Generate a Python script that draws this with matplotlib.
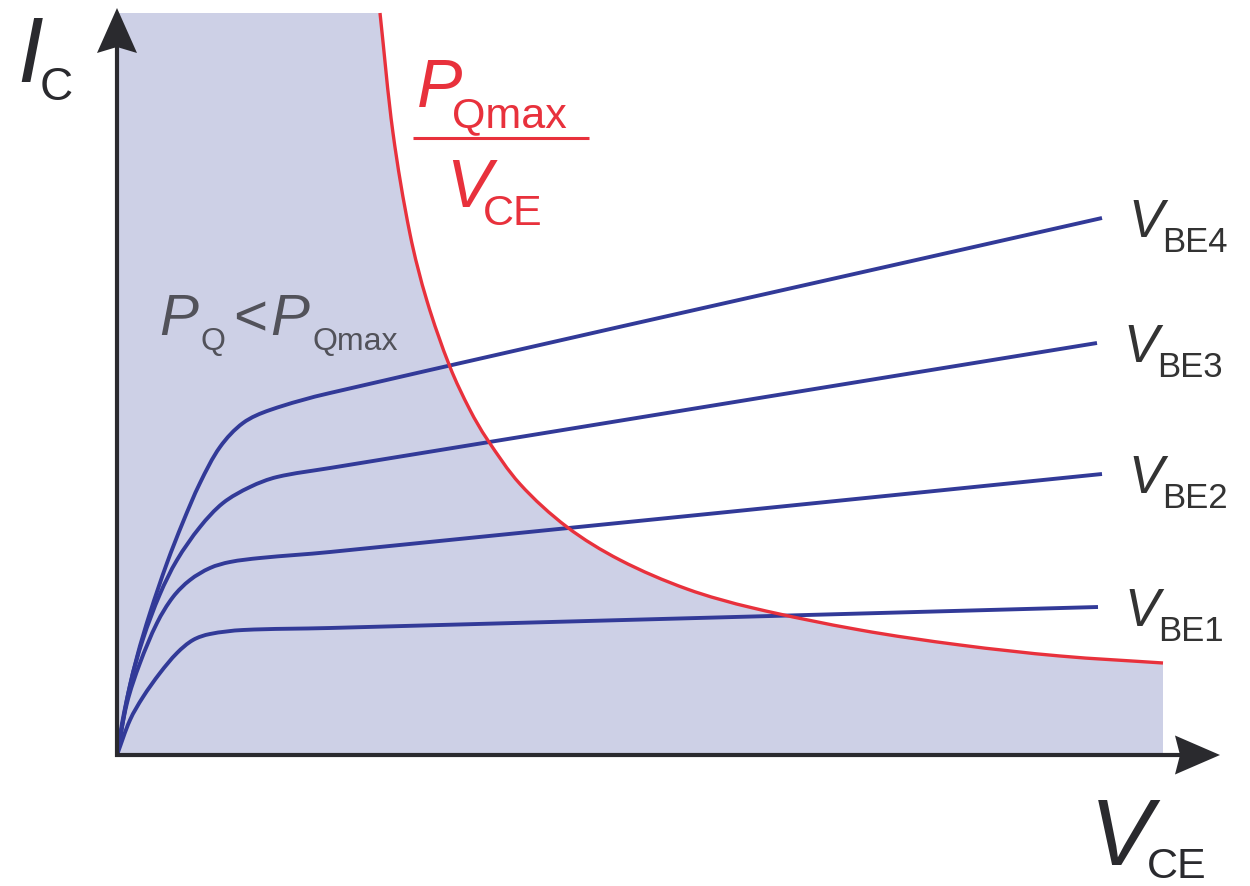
import numpy as np
import matplotlib
matplotlib.use("Agg")
import matplotlib.pyplot as plt
from matplotlib.path import Path
from matplotlib.patches import PathPatch, Polygon

# Output characteristics I_C(V_CE), one curve per base-emitter voltage
vce_be1 = [0.00, 0.13, 0.26, 0.43, 0.60, 0.76, 0.93, 1.26, 2.13, 9.81]
ic_be1 = [0.00, 0.35, 0.58, 0.82, 1.02, 1.15, 1.21, 1.25, 1.27, 1.48]

vce_be2 = [0.00, 0.10, 0.23, 0.40, 0.56, 0.73, 0.93, 1.13, 1.43, 2.13, 9.85]
ic_be2 = [0.00, 0.52, 0.92, 1.32, 1.58, 1.75, 1.87, 1.93, 1.97, 2.03, 2.81]

vce_be3 = [0.00, 0.13, 0.26, 0.43, 0.60, 0.83, 1.06, 1.33, 1.60, 2.13, 9.80]
ic_be3 = [0.00, 0.70, 1.16, 1.61, 1.95, 2.28, 2.52, 2.68, 2.78, 2.87, 4.12]

vce_be4 = [0.00, 0.07, 0.20, 0.33, 0.50, 0.66, 0.83, 1.03, 1.26, 1.53, 2.13, 9.85]
ic_be4 = [0.00, 0.42, 0.98, 1.42, 1.92, 2.33, 2.72, 3.08, 3.32, 3.45, 3.62, 5.37]

curve_names = ["BE1", "BE2", "BE3", "BE4"]

# Maximum power dissipation boundary I_C = P_Qmax / V_CE
vce_pmax = [2.63, 2.76, 2.93, 3.10, 3.33, 3.53, 3.70, 4.03, 4.50, 5.03,
            5.70, 6.36, 7.43, 8.43, 9.43, 10.46]
ic_pmax = [7.42, 6.22, 5.21, 4.54, 3.88, 3.45, 3.16, 2.71, 2.28, 1.95,
           1.66, 1.47, 1.25, 1.10, 0.99, 0.92]

ic_top = 7.42  # upper edge of the shaded safe region

BLUE = "#323a98"
RED = "#e8313c"
FILL = "#cdd0e6"
AXIS = "#2a2a2e"
FONT = "Liberation Sans"


def smooth_path(xs, ys):
    """Cubic Bezier vertices through the given points (chord-length tangents)."""
    p = np.column_stack([xs, ys]).astype(float)
    d = np.hypot(*np.diff(p, axis=0).T)
    t = np.concatenate([[0.0], np.cumsum(d)])
    n = len(p)
    m = np.zeros_like(p)
    m[0] = (p[1] - p[0]) / d[0]
    m[-1] = (p[-1] - p[-2]) / d[-1]
    for i in range(1, n - 1):
        m[i] = (p[i + 1] - p[i - 1]) / (t[i + 1] - t[i - 1])
    verts = [p[0]]
    codes = [Path.MOVETO]
    for i in range(n - 1):
        h = d[i]
        verts += [p[i] + m[i] * h / 3, p[i + 1] - m[i + 1] * h / 3, p[i + 1]]
        codes += [Path.CURVE4] * 3
    return verts, codes


fig = plt.figure(figsize=(12.5, 8.86), dpi=100)
ax = fig.add_axes([0, 0, 1, 1])
ax.set_xlim(-1.17, 11.33)
ax.set_ylim(-1.31, 7.55)
ax.axis("off")

# Shaded region P_Q < P_Qmax
rv, rc = smooth_path(vce_pmax, ic_pmax)
fill_verts = [(0, 0), (0, ic_top)] + rv + [(vce_pmax[-1], 0), (0, 0)]
fill_codes = [Path.MOVETO, Path.LINETO, Path.LINETO] + rc[1:] + [Path.LINETO, Path.CLOSEPOLY]
ax.add_patch(PathPatch(Path(fill_verts, fill_codes), facecolor=FILL,
                       edgecolor="none", zorder=1))

# Output characteristic curves
for xs, ys in [(vce_be1, ic_be1), (vce_be2, ic_be2), (vce_be3, ic_be3), (vce_be4, ic_be4)]:
    v, c = smooth_path(xs, ys)
    ax.add_patch(PathPatch(Path(v, c), facecolor="none", edgecolor=BLUE,
                           lw=2.8, capstyle="butt", joinstyle="round", zorder=2))

# Power hyperbola
ax.add_patch(PathPatch(Path(rv, rc), facecolor="none", edgecolor=RED,
                       lw=2.4, capstyle="butt", zorder=3))

# Axes with arrow heads
ax.plot([0, 0], [-0.02, 7.08], color=AXIS, lw=3.0, solid_capstyle="butt", zorder=4)
ax.plot([-0.02, 10.63], [0, 0], color=AXIS, lw=3.0, solid_capstyle="butt", zorder=4)
ax.add_patch(Polygon([(-0.20, 7.02), (0, 7.47), (0.20, 7.02), (0, 7.08)],
                     closed=True, facecolor=AXIS, edgecolor="none", zorder=4))
ax.add_patch(Polygon([(10.58, 0.195), (11.03, 0), (10.58, -0.195), (10.63, 0)],
                     closed=True, facecolor=AXIS, edgecolor="none", zorder=4))

# Axis labels
ax.text(-0.87, 6.73, "I", fontsize=67, style="italic", family=FONT,
        color=AXIS, ha="center", va="baseline")
ax.text(-0.77, 6.55, "C", fontsize=33, family=FONT, color=AXIS,
        ha="left", va="baseline")
ax.text(10.04, -1.10, "V", fontsize=68, style="italic", family=FONT,
        color=AXIS, ha="center", va="baseline")
ax.text(10.30, -1.23, "CE", fontsize=31, family=FONT, color=AXIS,
        ha="left", va="baseline")

# Curve labels V_BE1 .. V_BE4
ends = [(vce_be1[-1], ic_be1[-1]), (vce_be2[-1], ic_be2[-1]),
        (vce_be3[-1], ic_be3[-1]), (vce_be4[-1], ic_be4[-1])]
for name, (xe, ye) in zip(curve_names, ends):
    ax.text(xe + 0.44, ye - 0.19, "V", fontsize=38, style="italic", family=FONT,
            color="#333333", ha="center", va="baseline")
    ax.text(xe + 0.60, ye - 0.34, name, fontsize=25, family=FONT,
            color="#333333", ha="left", va="baseline")

# P_Qmax / V_CE fraction
ax.text(3.23, 6.48, "P", fontsize=49, style="italic", family=FONT,
        color=RED, ha="center", va="baseline")
ax.text(3.35, 6.28, "Qmax", fontsize=31, family=FONT, color=RED,
        ha="left", va="baseline")
ax.plot([2.96, 4.72], [6.17, 6.17], color=RED, lw=2.2, solid_capstyle="butt")
ax.text(3.52, 5.48, "V", fontsize=49, style="italic", family=FONT,
        color=RED, ha="center", va="baseline")
ax.text(3.66, 5.30, "CE", fontsize=31, family=FONT, color=RED,
        ha="left", va="baseline")

# P_Q < P_Qmax
GREY = "#52525a"
ax.text(0.62, 4.20, "P", fontsize=42, style="italic", family=FONT,
        color=GREY, ha="center", va="baseline", zorder=5)
ax.text(0.84, 4.05, "Q", fontsize=23, family=FONT, color=GREY,
        ha="left", va="baseline", zorder=5)
ax.text(1.33, 4.20, "<", fontsize=42, family=FONT, color=GREY,
        ha="center", va="baseline", zorder=5)
ax.text(1.73, 4.20, "P", fontsize=42, style="italic", family=FONT,
        color=GREY, ha="center", va="baseline", zorder=5)
ax.text(1.95, 4.05, "Qmax", fontsize=23, family=FONT, color=GREY,
        ha="left", va="baseline", zorder=5)

fig.savefig("out.png", dpi=100, facecolor="white")
